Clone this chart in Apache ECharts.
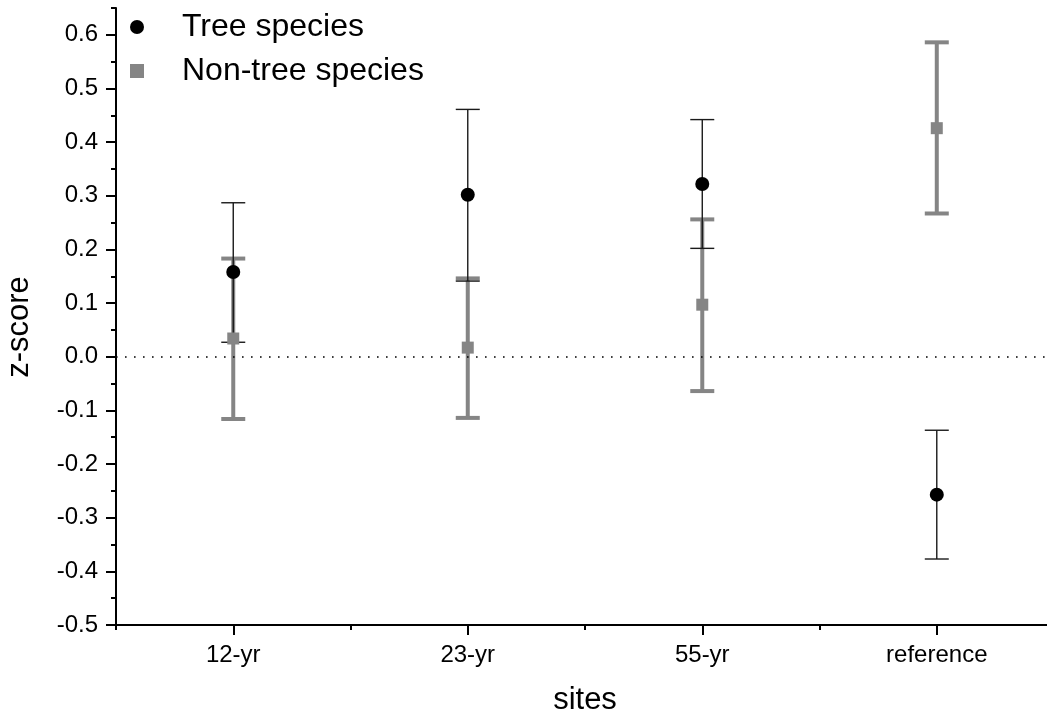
<!DOCTYPE html>
<html>
<head>
<meta charset="utf-8">
<script src="https://cdn.jsdelivr.net/npm/echarts@6/dist/echarts.min.js"></script>
<style>
html,body{margin:0;padding:0;background:#fff;}
#chart{width:1047px;height:721px;}
</style>
</head>
<body>
<div id="chart"></div>
<script>
const categories = ['12-yr', '23-yr', '55-yr', 'reference'];
const categoryPos = [1, 2, 3, 4];
const treeMean = [0.158, 0.302, 0.322, -0.257];
const treeUpper = [0.287, 0.461, 0.442, -0.137];
const treeLower = [0.027, 0.141, 0.202, -0.377];
const nonTreeMean = [0.034, 0.017, 0.097, 0.426];
const nonTreeUpper = [0.183, 0.146, 0.256, 0.586];
const nonTreeLower = [-0.116, -0.114, -0.064, 0.267];
const yMajorTicks = [-0.5, -0.4, -0.3, -0.2, -0.1, 0.0, 0.1, 0.2, 0.3, 0.4, 0.5, 0.6];
const yMinorTicks = [-0.45, -0.35, -0.25, -0.15, -0.05, 0.05, 0.15, 0.25, 0.35, 0.45, 0.55, 0.65];
const xMinorTicks = [0.5, 1.5, 2.5, 3.5];
const seriesNames = ['Tree species', 'Non-tree species'];

const FONT = 'Liberation Sans, Arial, sans-serif';
const GRAY = '#858585';

function errRender(color, lw, capW) {
  return function (params, api) {
    const x = api.value(0);
    const lo = api.coord([x, api.value(1)]);
    const hi = api.coord([x, api.value(2)]);
    const hw = capW / 2;
    const st = { stroke: color, lineWidth: lw };
    return {
      type: 'group',
      children: [
        { type: 'line', shape: { x1: lo[0], y1: lo[1], x2: hi[0], y2: hi[1] }, style: st },
        { type: 'line', shape: { x1: lo[0] - hw, y1: lo[1], x2: lo[0] + hw, y2: lo[1] }, style: st },
        { type: 'line', shape: { x1: hi[0] - hw, y1: hi[1], x2: hi[0] + hw, y2: hi[1] }, style: st }
      ]
    };
  };
}

const treeErr = categoryPos.map((p, i) => [p, treeLower[i], treeUpper[i]]);
const nonTreeErr = categoryPos.map((p, i) => [p, nonTreeLower[i], nonTreeUpper[i]]);
const treePts = categoryPos.map((p, i) => [p, treeMean[i]]);
const nonTreePts = categoryPos.map((p, i) => [p, nonTreeMean[i]]);

const chart = echarts.init(document.getElementById('chart'));
const axisLineStyle = { color: '#000', width: 2 };
const X_MIN = 0.5, X_MAX = 4.47;

chart.setOption({
  animation: false,
  backgroundColor: '#fff',
  textStyle: { fontFamily: FONT },
  grid: { left: 116, right: 0, top: 8, bottom: 96, containLabel: false },
  legend: {
    orient: 'vertical',
    left: 125,
    top: 6,
    itemWidth: 14,
    itemHeight: 14,
    itemGap: 12,
    textStyle: { fontSize: 32, fontFamily: FONT, color: '#000', lineHeight: 32, padding: [0, 0, 0, 33] },
    data: [
      { name: seriesNames[0], icon: 'circle', itemStyle: { color: '#000' } },
      { name: seriesNames[1], icon: 'rect', itemStyle: { color: GRAY } }
    ]
  },
  xAxis: [
    {
      type: 'value', min: X_MIN, max: X_MAX,
      splitLine: { show: false },
      axisLine: { show: true, lineStyle: axisLineStyle, onZero: false },
      axisTick: { show: true, length: 10, lineStyle: { color: '#000', width: 2 }, customValues: categoryPos },
      axisLabel: {
        customValues: categoryPos, margin: 18, fontSize: 24, color: '#000', fontFamily: FONT,
        formatter: v => categories[Math.round(v) - 1] || ''
      }
    },
    {
      type: 'value', min: X_MIN, max: X_MAX, gridIndex: 0,
      splitLine: { show: false },
      axisLine: { show: false, onZero: false },
      axisTick: { show: true, length: 5, lineStyle: { color: '#000', width: 2 }, customValues: xMinorTicks },
      axisLabel: { show: false },
      position: 'bottom'
    }
  ],
  yAxis: [
    {
      type: 'value', min: -0.5, max: 0.65,
      splitLine: { show: false },
      axisLine: { show: true, lineStyle: axisLineStyle, onZero: false },
      axisTick: { show: true, length: 10, lineStyle: { color: '#000', width: 2 }, customValues: yMajorTicks },
      axisLabel: {
        customValues: yMajorTicks, margin: 18, fontSize: 24, color: '#000', fontFamily: FONT,
        formatter: v => (Math.abs(v) < 1e-9 ? 0 : v).toFixed(1)
      }
    },
    {
      type: 'value', min: -0.5, max: 0.65, gridIndex: 0, position: 'left',
      splitLine: { show: false },
      axisLine: { show: false, onZero: false },
      axisTick: { show: true, length: 5, lineStyle: { color: '#000', width: 2 }, customValues: yMinorTicks },
      axisLabel: { show: false }
    }
  ],
  graphic: [
    {
      type: 'text', x: 585, y: 700,
      style: { text: 'sites', font: '31px ' + FONT, fill: '#000', x: 0, y: 0, align: 'center', verticalAlign: 'middle' }
    },
    {
      type: 'text', rotation: Math.PI / 2, x: 19, y: 327,
      style: { text: 'z-score', font: '31px ' + FONT, fill: '#000', x: 0, y: 0, align: 'center', verticalAlign: 'middle' }
    }
  ],
  series: [
    {
      name: seriesNames[1] + ' err', type: 'custom', xAxisIndex: 0, yAxisIndex: 0,
      renderItem: errRender(GRAY, 4, 24), data: nonTreeErr, z: 2, silent: true,
      markLine: {
        silent: true, symbol: 'none', label: { show: false },
        lineStyle: { color: '#000', width: 1.6, type: [1.6, 7.4] },
        data: [{ yAxis: 0 }]
      }
    },
    {
      name: seriesNames[0] + ' err', type: 'custom', xAxisIndex: 0, yAxisIndex: 0,
      renderItem: errRender('#1a1a1a', 1.4, 24), data: treeErr, z: 3, silent: true
    },
    {
      name: seriesNames[1], type: 'scatter', symbol: 'rect', symbolSize: 12,
      itemStyle: { color: GRAY, opacity: 1 }, data: nonTreePts, z: 4
    },
    {
      name: seriesNames[0], type: 'scatter', symbol: 'circle', symbolSize: 14,
      itemStyle: { color: '#000', opacity: 1 }, data: treePts, z: 5
    }
  ]
});
</script>
</body>
</html>
